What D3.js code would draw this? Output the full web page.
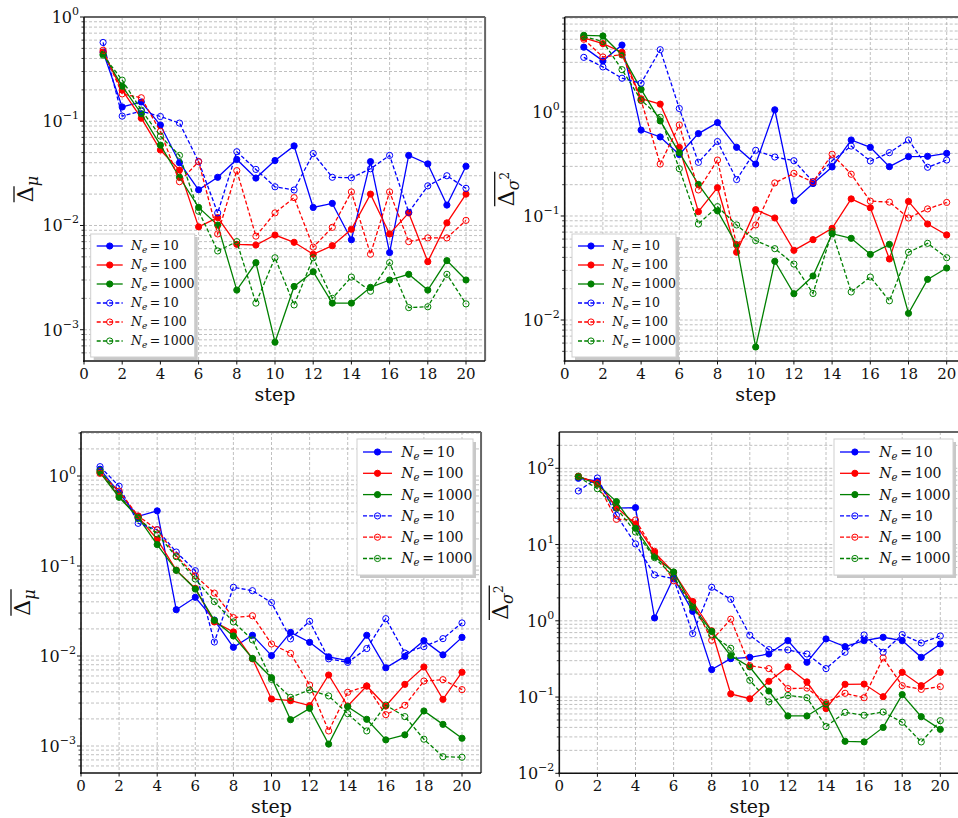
<!DOCTYPE html>
<head>
    <meta charset="utf-8">
    <style>
        body {
            margin: 0;
            background: #fff;
        }

        .leg text {
            white-space: pre;
        }
    </style>
</head>

<body>
    <svg id="chart" width="958" height="818"></svg>

    <script src="https://cdn.jsdelivr.net/npm/d3@7"></script>
    <script>
        var steps = [1, 2, 3, 4, 5, 6, 7, 8, 9, 10, 11, 12, 13, 14, 15, 16, 17, 18, 19, 20]
        var xTicks = [0, 2, 4, 6, 8, 10, 12, 14, 16, 18, 20]
        var sizes = ["10", "100", "1000", "10", "100", "1000"]
        var colors = ["#0000ff", "#ff0000", "#008000", "#0000ff", "#ff0000", "#008000"]
        var dashed = [false, false, false, true, true, true]
        var serif = "'DejaVu Serif', 'Liberation Serif', serif"

        // top left : mean error
        var tl10 = [0.46, 0.137, 0.153, 0.092, 0.040, 0.022, 0.029, 0.043, 0.0285, 0.042, 0.058, 0.0149, 0.0163, 0.0073, 0.041, 0.0055, 0.047, 0.039, 0.0157, 0.037]
        var tl100 = [0.46, 0.199, 0.107, 0.053, 0.034, 0.0097, 0.0119, 0.0066, 0.0065, 0.0081, 0.0069, 0.0053, 0.0064, 0.0092, 0.020, 0.0083, 0.0132, 0.0045, 0.0106, 0.020]
        var tl1000 = [0.44, 0.217, 0.118, 0.059, 0.029, 0.0149, 0.0101, 0.0024, 0.0044, 0.00076, 0.0026, 0.0036, 0.0018, 0.0018, 0.00255, 0.0030, 0.0034, 0.0024, 0.0046, 0.0030]
        var tl10d = [0.57, 0.112, 0.125, 0.111, 0.096, 0.041, 0.0132, 0.051, 0.0345, 0.0235, 0.0219, 0.049, 0.029, 0.0287, 0.035, 0.047, 0.0134, 0.024, 0.030, 0.0227]
        var tl100d = [0.48, 0.183, 0.168, 0.080, 0.0263, 0.041, 0.0083, 0.0336, 0.0079, 0.0132, 0.0185, 0.0062, 0.0096, 0.021, 0.0053, 0.021, 0.0070, 0.0076, 0.0076, 0.0112]
        var tl1000d = [0.43, 0.248, 0.128, 0.072, 0.047, 0.0137, 0.0057, 0.0070, 0.0018, 0.0049, 0.00173, 0.0049, 0.0020, 0.0032, 0.00234, 0.0044, 0.00163, 0.00166, 0.0034, 0.00177]

        // top right : variance error
        var tr10 = [4.2, 3.1, 4.4, 0.67, 0.575, 0.39, 0.62, 0.79, 0.457, 0.316, 1.05, 0.140, 0.205, 0.296, 0.538, 0.457, 0.298, 0.372, 0.375, 0.40]
        var tr100 = [5.15, 4.54, 3.75, 1.34, 1.19, 0.457, 0.110, 0.187, 0.0448, 0.115, 0.0957, 0.0468, 0.0592, 0.076, 0.146, 0.120, 0.0386, 0.138, 0.0838, 0.0657]
        var tr1000 = [5.46, 5.38, 3.53, 1.65, 0.82, 0.406, 0.201, 0.112, 0.053, 0.0055, 0.0367, 0.0179, 0.0265, 0.0676, 0.061, 0.0428, 0.0534, 0.0116, 0.0246, 0.0316]
        var tr10d = [3.35, 2.71, 2.11, 1.89, 3.97, 1.08, 0.328, 0.52, 0.224, 0.428, 0.369, 0.34, 0.214, 0.34, 0.47, 0.338, 0.406, 0.538, 0.294, 0.345]
        var tr100d = [5.0, 3.38, 3.56, 1.29, 0.316, 0.75, 0.178, 0.345, 0.0526, 0.082, 0.208, 0.257, 0.212, 0.392, 0.252, 0.139, 0.136, 0.0957, 0.117, 0.135]
        var tr1000d = [5.3, 4.75, 2.55, 1.30, 0.889, 0.285, 0.0838, 0.123, 0.082, 0.058, 0.0485, 0.0345, 0.018, 0.0707, 0.0186, 0.0259, 0.0153, 0.0448, 0.0546, 0.0397]

        // bottom left : mean error
        var bl10 = [1.19, 0.65, 0.356, 0.41, 0.0327, 0.0449, 0.0251, 0.0125, 0.0170, 0.0101, 0.0183, 0.0142, 0.0098, 0.0089, 0.0170, 0.0074, 0.0099, 0.0148, 0.0103, 0.0161]
        var bl100 = [1.12, 0.59, 0.353, 0.198, 0.090, 0.0565, 0.0239, 0.0185, 0.0093, 0.00333, 0.00319, 0.00281, 0.00615, 0.00278, 0.00464, 0.00278, 0.00484, 0.00755, 0.0033, 0.0066]
        var bl1000 = [1.09, 0.58, 0.347, 0.173, 0.0895, 0.0555, 0.0249, 0.0167, 0.0094, 0.00574, 0.00196, 0.00262, 0.00105, 0.00274, 0.00198, 0.00117, 0.00133, 0.00245, 0.00174, 0.00122]
        var bl10d = [1.27, 0.77, 0.298, 0.253, 0.143, 0.0887, 0.0143, 0.058, 0.0532, 0.0392, 0.0155, 0.0243, 0.0093, 0.0085, 0.0121, 0.026, 0.0108, 0.0127, 0.0156, 0.0233]
        var bl100d = [1.07, 0.68, 0.36, 0.253, 0.130, 0.078, 0.050, 0.0267, 0.028, 0.0136, 0.0107, 0.00476, 0.00147, 0.00395, 0.00464, 0.00223, 0.00283, 0.00527, 0.00546, 0.00423]
        var bl1000d = [1.15, 0.615, 0.336, 0.227, 0.127, 0.0717, 0.0402, 0.0239, 0.0151, 0.0055, 0.00347, 0.00419, 0.0036, 0.00229, 0.00147, 0.00285, 0.00212, 0.00119, 0.00076, 0.00075]

        // bottom right : variance error
        var br10 = [74, 68, 30, 30.5, 1.09, 3.68, 1.33, 0.229, 0.319, 0.332, 0.367, 0.55, 0.286, 0.578, 0.458, 0.55, 0.608, 0.55, 0.332, 0.497]
        var br100 = [78, 65, 30.8, 18.6, 7.9, 4.3, 1.79, 0.74, 0.11, 0.095, 0.161, 0.248, 0.158, 0.0705, 0.147, 0.148, 0.101, 0.211, 0.141, 0.211]
        var br1000 = [79, 61.7, 36.6, 16.3, 6.95, 4.37, 1.56, 0.727, 0.349, 0.248, 0.120, 0.0565, 0.0565, 0.081, 0.0263, 0.0258, 0.040, 0.1077, 0.0553, 0.0377]
        var br10d = [50.4, 74.6, 24.2, 10.2, 4.0, 3.57, 0.68, 2.75, 1.91, 0.646, 0.419, 0.415, 0.367, 0.236, 0.387, 0.652, 0.387, 0.659, 0.512, 0.632]
        var br100d = [78, 63.6, 21.4, 21, 8.15, 3.36, 1.77, 0.555, 1.05, 0.258, 0.236, 0.129, 0.131, 0.0845, 0.112, 0.098, 0.326, 0.141, 0.126, 0.137]
        var br1000d = [77, 54, 30, 14.6, 6.73, 3.8, 1.5, 0.652, 0.436, 0.166, 0.0863, 0.105, 0.098, 0.041, 0.063, 0.0577, 0.0637, 0.0467, 0.0258, 0.049]

        var panels = [
            { left: 84, top: 17, bottom: 361, xmax: 21, unit: 19.1, lo: -3.3, hi: 0, sub: "μ", sup: false, over: "delta",
              leg: { x: 90.7, y: 234, w: 104, h: 123, row0: 246, dy: 19, fs: 12.5 },
              series: [tl10, tl100, tl1000, tl10d, tl100d, tl1000d] },
            { left: 564.7, top: 17, bottom: 361, xmax: 21, unit: 19.1, lo: -2.394, hi: 0.913, sub: "σ", sup: true, over: "all",
              leg: { x: 572, y: 234, w: 104, h: 123, row0: 246, dy: 19, fs: 12.5 },
              series: [tr10, tr100, tr1000, tr10d, tr100d, tr1000d] },
            { left: 81, top: 432, bottom: 773, xmax: 21, unit: 19.05, lo: -3.3, hi: 0.489, sub: "μ", sup: false, over: "all",
              leg: { x: 357, y: 439, w: 116, h: 136, row0: 452, dy: 21.3, fs: 14 },
              series: [bl10, bl100, bl1000, bl10d, bl100d, bl1000d] },
            { left: 559.3, top: 432, bottom: 773.3, xmax: 21, unit: 19.05, lo: -2, hi: 2.476, sub: "σ", sup: true, over: "all",
              leg: { x: 834, y: 439, w: 119, h: 136, row0: 452, dy: 21.3, fs: 14 },
              series: [br10, br100, br1000, br10d, br100d, br1000d] }
        ]

        var svg = d3.select("#chart")

        panels.forEach(function (p, pi) {
            var right = p.left + p.xmax * p.unit
            var x = d3.scaleLinear().domain([0, p.xmax]).range([p.left, right])
            var y = d3.scaleLog().domain([Math.pow(10, p.lo), Math.pow(10, p.hi)]).range([p.bottom, p.top])

            var g = svg.append("g").style("font-family", serif)

            var clipId = "clip" + pi
            g.append("clipPath").attr("id", clipId)
                .append("rect").attr("x", p.left).attr("y", p.top)
                .attr("width", right - p.left).attr("height", p.bottom - p.top)

            // ticks for the log axis
            var majors = d3.range(Math.ceil(p.lo - 1e-6), Math.floor(p.hi + 1e-6) + 1)
            var minors = []
            for (var n = Math.floor(p.lo); n <= Math.ceil(p.hi); n++) {
                for (var k = 2; k <= 9; k++) {
                    var v = k * Math.pow(10, n)
                    if (Math.log10(v) >= p.lo && Math.log10(v) <= p.hi) minors.push(v)
                }
            }

            // grid
            var grid = g.append("g").attr("stroke", "#b0b0b0").attr("stroke-width", 0.8)
                .attr("stroke-dasharray", "3,2")
            grid.selectAll(".hmin").data(minors).join("line")
                .attr("x1", p.left).attr("x2", right)
                .attr("y1", d => y(d)).attr("y2", d => y(d))
            grid.selectAll(".hmaj").data(majors).join("line")
                .attr("x1", p.left).attr("x2", right)
                .attr("y1", d => y(Math.pow(10, d))).attr("y2", d => y(Math.pow(10, d)))
            grid.selectAll(".v").data(xTicks).join("line")
                .attr("x1", d => x(d)).attr("x2", d => x(d))
                .attr("y1", p.top).attr("y2", p.bottom)

            // series
            var line = d3.line().x((d, i) => x(steps[i])).y(d => y(d))
            var plot = g.append("g").attr("clip-path", "url(#" + clipId + ")")
            p.series.forEach(function (s, si) {
                plot.append("path").datum(s)
                    .attr("d", line)
                    .attr("fill", "none")
                    .attr("stroke", colors[si])
                    .attr("stroke-width", 1.3)
                    .attr("stroke-dasharray", dashed[si] ? "4,2.2" : null)
                plot.selectAll(".m" + si).data(s).join("circle")
                    .attr("cx", (d, i) => x(steps[i]))
                    .attr("cy", d => y(d))
                    .attr("r", 3.1)
                    .attr("fill", dashed[si] ? "none" : colors[si])
                    .attr("stroke", colors[si])
                    .attr("stroke-width", 1)
            })

            // frame
            g.append("line").attr("x1", p.left).attr("x2", right).attr("y1", p.top).attr("y2", p.top)
                .attr("stroke", "#666").attr("stroke-width", 2)
            g.append("line").attr("x1", right).attr("x2", right).attr("y1", p.top).attr("y2", p.bottom)
                .attr("stroke", "#666").attr("stroke-width", 2)
            g.append("line").attr("x1", p.left).attr("x2", p.left).attr("y1", p.top).attr("y2", p.bottom + 1)
                .attr("stroke", "#111").attr("stroke-width", 1.6)
            g.append("line").attr("x1", p.left - 1).attr("x2", right).attr("y1", p.bottom).attr("y2", p.bottom)
                .attr("stroke", "#111").attr("stroke-width", 1.6)

            // y ticks
            g.selectAll(".ymin").data(minors).join("line")
                .attr("x1", p.left - 2.5).attr("x2", p.left)
                .attr("y1", d => y(d)).attr("y2", d => y(d))
                .attr("stroke", "#111").attr("stroke-width", 0.8)
            g.selectAll(".ymaj").data(majors).join("line")
                .attr("x1", p.left - 4).attr("x2", p.left)
                .attr("y1", d => y(Math.pow(10, d))).attr("y2", d => y(Math.pow(10, d)))
                .attr("stroke", "#111").attr("stroke-width", 1)
            majors.forEach(function (e) {
                var t = g.append("text")
                    .attr("x", p.left - 5).attr("y", y(Math.pow(10, e)) + 6)
                    .attr("text-anchor", "end").attr("font-size", 16).attr("fill", "#111")
                t.append("tspan").text("10")
                t.append("tspan").attr("dy", -8).attr("font-size", 11)
                    .text(e < 0 ? "\u2212" + Math.abs(e) : String(e))
            })

            // x ticks
            g.selectAll(".xt").data(xTicks).join("line")
                .attr("x1", d => x(d)).attr("x2", d => x(d))
                .attr("y1", p.bottom).attr("y2", p.bottom + 3.5)
                .attr("stroke", "#111").attr("stroke-width", 1)
            g.selectAll(".xl").data(xTicks).join("text")
                .attr("x", d => x(d)).attr("y", p.bottom + 18)
                .attr("text-anchor", "middle").attr("font-size", 15).attr("fill", "#111")
                .text(d => d)

            // axis labels
            g.append("text").attr("x", x(10)).attr("y", p.bottom + 40)
                .attr("text-anchor", "middle").attr("font-size", 19).attr("fill", "#111")
                .text("step")

            var gl = g.append("g")
                .attr("transform", "translate(" + (p.left - 51) + "," + ((p.top + p.bottom) / 2) + ") rotate(-90)")
            var lab = gl.append("text").attr("font-size", 22).attr("fill", "#111")
            lab.append("tspan").text("Δ")
            lab.append("tspan").attr("dy", 5).attr("font-size", 16).attr("font-style", "italic").text(p.sub)
            if (p.sup) lab.append("tspan").attr("dy", -10).attr("font-size", 12).text("2")
            var full = lab.node().getComputedTextLength()
            var dw = lab.node().getSubStringLength(0, 1)
            lab.attr("x", -full / 2)
            gl.append("line")
                .attr("x1", -full / 2).attr("x2", -full / 2 + (p.over === "all" ? full : dw))
                .attr("y1", -19).attr("y2", -19)
                .attr("stroke", "#111").attr("stroke-width", 1.3)

            // legend
            var L = p.leg
            var leg = g.append("g").attr("class", "leg")
            leg.append("rect").attr("x", L.x + 3).attr("y", L.y + 3).attr("width", L.w).attr("height", L.h)
                .attr("fill", "#c8c8c8")
            leg.append("rect").attr("x", L.x).attr("y", L.y).attr("width", L.w).attr("height", L.h)
                .attr("fill", "#fff").attr("stroke", "#cfcfcf").attr("stroke-width", 1)
            var lw = L.w * 0.25
            sizes.forEach(function (s, si) {
                var ry = L.row0 + si * L.dy
                var x0 = L.x + 6, x1 = L.x + 6 + lw
                leg.append("line").attr("x1", x0).attr("x2", x1).attr("y1", ry).attr("y2", ry)
                    .attr("stroke", colors[si]).attr("stroke-width", 1.3)
                    .attr("stroke-dasharray", dashed[si] ? "4,2.2" : null)
                leg.append("circle").attr("cx", (x0 + x1) / 2).attr("cy", ry).attr("r", 3.1)
                    .attr("fill", dashed[si] ? "none" : colors[si])
                    .attr("stroke", colors[si]).attr("stroke-width", 1)
                var t = leg.append("text").attr("x", x1 + L.w * 0.08).attr("y", ry + L.fs * 0.35)
                    .attr("font-size", L.fs).attr("fill", "#111")
                t.append("tspan").attr("font-style", "italic").text("N")
                t.append("tspan").attr("font-style", "italic").attr("font-size", L.fs * 0.72).attr("dy", 3).text("e")
                t.append("tspan").attr("dy", -3).text("\u2009=\u2009" + s)
            })
        })
    </script>
</body>
